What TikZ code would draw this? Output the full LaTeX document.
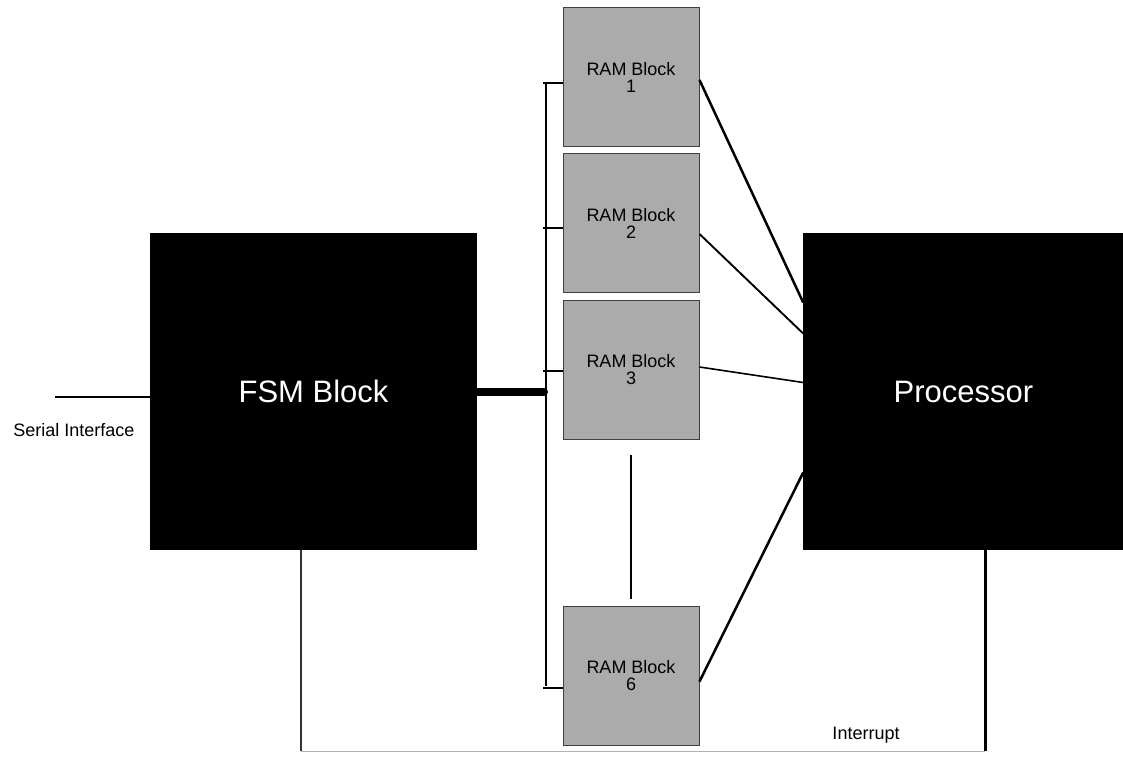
\documentclass[tikz,border=0pt]{standalone}
\usepackage{fontspec}
\setmainfont{Liberation Sans}
\usetikzlibrary{positioning}
\definecolor{ramgray}{HTML}{ABABAB}

\begin{document}
\begin{tikzpicture}[
			x=1pt, y=-1pt,
			node distance=6pt,
			block/.style={fill=black, text=white, minimum width=327pt, minimum height=317pt,
				inner sep=0pt, font=\fontsize{31}{36}\selectfont},
			ram/.style={draw=black!75, line width=1pt, fill=ramgray, minimum width=136pt,
				minimum height=139pt, inner sep=0pt, align=center, font=\fontsize{18}{17}\selectfont},
			note/.style={font=\fontsize{18}{20}\selectfont, inner sep=0pt},
			link/.style={draw=black, line width=1.9pt}
			]
			\useasboundingbox (0,0) rectangle (1123,760);

			\node[block] (fsm) at (313.5,391.5) {FSM Block};
			\node[block, minimum width=320pt, right=326pt of fsm] (proc) {Processor};

			\node[ram] (ram1) at (631,77) {RAM Block\\1};
			\node[ram, below=of ram1] (ram2) {RAM Block\\2};
			\node[ram, below=7pt of ram2] (ram3) {RAM Block\\3};
			\node[ram, below=166pt of ram3] (ram6) {RAM Block\\6};

			% bus between FSM and RAM blocks
			\coordinate (bustop) at (546,82);
			\coordinate (busbot) at (546,686);
			\draw[line width=2.8pt] (bustop) -- (busbot);
			\draw[line width=8pt, line cap=round] (fsm.east) -- ([xshift=-2pt]fsm.east -| bustop);
			\foreach \r/\dy in {ram1/-6, ram2/-5, ram3/-1, ram6/-12} {
				\draw[line width=1.8pt] ([yshift=\dy pt]\r.west) -- ++(-20,0);
			}

			% RAM blocks to processor
			\draw[link, line width=2.5pt] ([yshift=-3pt]ram1.east) -- ([yshift=89pt]proc.west);
			\draw[link] ([yshift=-11pt]ram2.east) -- ([yshift=58pt]proc.west);
			\draw[link, line width=1.6pt] ([yshift=3pt]ram3.east) -- ([yshift=9pt]proc.west);
			\draw[link, line width=2.5pt] ([yshift=-5.5pt]ram6.east) -- ([yshift=-81pt]proc.west);

			\draw[line width=2.8pt, shorten <=15pt, shorten >=7pt] (ram3) -- (ram6);

			% serial input
			\coordinate (serial) at (55,397);
			\draw[line width=1.8pt] (serial) -- (serial -| fsm.west);
			\node[note] (serlbl) at (74,430) {Serial Interface};

			% interrupt
			\coordinate (irqL) at ([xshift=-12.5pt]fsm.south);
			\coordinate (irqR) at ([xshift=22pt]proc.south);
			\coordinate (bot) at (0,751);
			\draw[line width=2.2pt, black!80] (irqL) -- (irqL |- bot);
			\draw[line width=2.2pt] (irqR) -- (irqR |- bot);
			\draw[line width=1pt, black!30] (irqL |- bot) -- (irqR |- bot);
			\node[note] (irq) at (866,735) {Interrupt};

		\end{tikzpicture}
\end{document}
